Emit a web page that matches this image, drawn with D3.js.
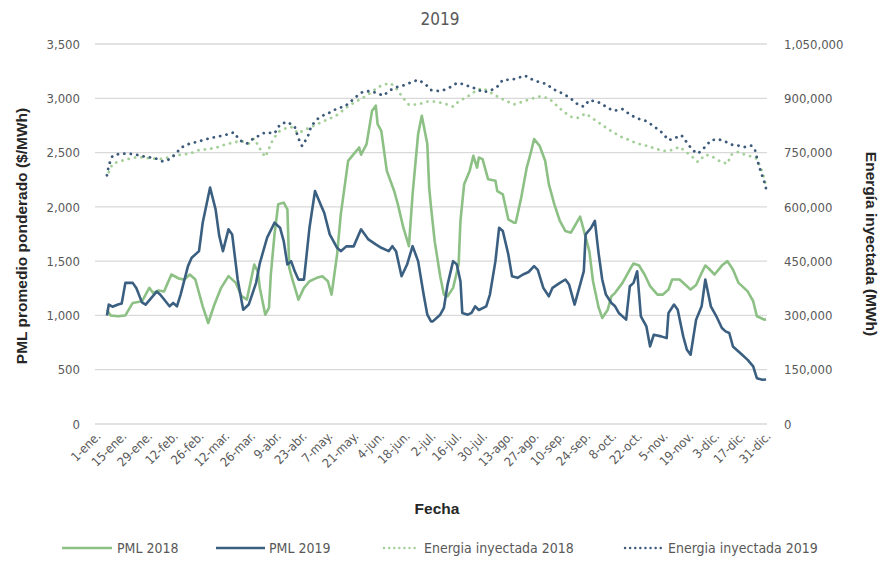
<!DOCTYPE html>
<html><head><meta charset="utf-8">
<script src="https://cdn.jsdelivr.net/npm/d3@7"></script>
<style>
body{margin:0;background:#fff;}
svg text{font-family:"Liberation Sans Narrow","Arial Narrow","DejaVu Sans Condensed",sans-serif;fill:#595959;}
</style></head>
<body><svg id="c" width="880" height="561"></svg>
<script>
const title = "2019";
const tickDays = [0,14,28,42,56,70,84,98,112,126,140,154,168,182,196,210,224,238,252,266,280,294,308,322,336,350,364];
const tickLabels = ["1-ene.","15-ene.","29-ene.","12-feb.","26-feb.","12-mar.","26-mar.","9-abr.","23-abr.","7-may.","21-may.","4-jun.","18-jun.","2-jul.","16-jul.","30-jul.","13-ago.","27-ago.","10-sep.","24-sep.","8-oct.","22-oct.","5-nov.","19-nov.","3-dic.","17-dic.","31-dic."];
const leftTicks = [0,500,1000,1500,2000,2500,3000,3500];
const rightTicks = [0,150000,300000,450000,600000,750000,900000,1050000];

// [day of year (0 = 1-ene), value]
const pml2018 = [[6,1053],[8,1000],[12,992],[16,1000],[20,1115],[25,1130],[29,1254],[31,1208],[34,1230],[37,1220],[41,1377],[45,1340],[48,1330],[51,1377],[54,1331],[58,1084],[61,930],[64,1084],[68,1254],[72,1362],[76,1300],[79,1180],[82,1146],[86,1469],[88,1400],[89,1254],[92,1007],[94,1069],[95,1377],[97,1746],[99,2023],[102,2039],[104,1977],[105,1438],[107,1315],[110,1146],[113,1254],[116,1315],[120,1346],[123,1360],[126,1315],[128,1192],[131,1562],[133,1931],[137,2424],[140,2485],[143,2547],[144,2480],[147,2578],[150,2886],[152,2932],[153,2763],[155,2700],[158,2331],[162,2146],[164,2023],[167,1808],[170,1638],[172,2116],[175,2670],[177,2839],[180,2578],[181,2176],[182,2000],[184,1684],[187,1361],[189,1192],[191,1176],[194,1254],[197,1469],[198,1870],[200,2209],[203,2331],[205,2470],[207,2362],[208,2455],[210,2440],[213,2255],[217,2240],[218,2146],[221,2116],[224,1885],[227,1854],[228,1854],[231,2085],[234,2362],[236,2485],[238,2624],[241,2562],[244,2424],[246,2209],[249,2023],[252,1870],[255,1777],[258,1762],[263,1910],[266,1720],[268,1592],[270,1315],[273,1075],[275,977],[278,1053],[280,1177],[282,1208],[286,1300],[290,1423],[292,1478],[295,1460],[298,1377],[301,1270],[305,1192],[308,1192],[311,1238],[313,1331],[317,1331],[320,1285],[323,1238],[326,1280],[329,1392],[331,1460],[333,1430],[336,1377],[339,1438],[340,1460],[343,1500],[346,1423],[349,1300],[351,1270],[354,1222],[357,1131],[359,992],[363,961],[364,965]];

const pml2019 = [[6,1000],[7,1100],[9,1080],[12,1100],[14,1110],[16,1300],[20,1300],[22,1250],[25,1120],[27,1100],[30,1160],[33,1220],[35,1190],[40,1084],[42,1115],[44,1084],[46,1192],[50,1454],[52,1531],[56,1592],[58,1854],[62,2178],[65,1977],[67,1731],[69,1592],[72,1793],[74,1746],[77,1331],[80,1053],[83,1100],[87,1300],[89,1480],[93,1716],[97,1854],[100,1808],[102,1684],[104,1469],[106,1500],[108,1407],[110,1330],[113,1330],[116,1808],[119,2146],[122,2023],[124,1946],[127,1746],[131,1623],[133,1592],[136,1636],[140,1636],[144,1793],[148,1700],[152,1654],[155,1623],[159,1592],[161,1638],[163,1592],[166,1361],[169,1469],[172,1638],[175,1500],[178,1192],[180,1007],[182,945],[183,945],[187,1007],[189,1069],[191,1284],[194,1500],[196,1470],[198,1315],[199,1023],[202,1007],[204,1023],[206,1084],[208,1050],[212,1084],[214,1192],[217,1500],[219,1808],[221,1777],[224,1562],[226,1361],[229,1346],[232,1377],[235,1400],[238,1454],[240,1420],[243,1254],[246,1176],[248,1254],[252,1300],[255,1331],[257,1284],[260,1100],[263,1284],[265,1408],[266,1746],[269,1808],[271,1870],[273,1577],[275,1331],[277,1192],[280,1115],[282,1084],[284,1023],[288,961],[290,1269],[292,1300],[294,1407],[296,992],[299,899],[301,714],[303,822],[307,807],[310,791],[311,1023],[314,1100],[316,1053],[319,807],[321,684],[323,638],[326,961],[329,1084],[331,1331],[334,1084],[337,992],[340,884],[342,853],[344,838],[346,714],[349,668],[351,638],[354,591],[357,530],[359,422],[362,407],[364,410]];

const energia2018 = [[7,696000],[9,719000],[13,726000],[18,733000],[23,738000],[27,735000],[32,733000],[37,732000],[41,741000],[46,744000],[51,747000],[56,757000],[60,759000],[65,763000],[70,772000],[75,778000],[79,782000],[83,775000],[86,789000],[90,752000],[92,738000],[96,784000],[99,807000],[103,817000],[106,821000],[110,803000],[113,812000],[117,821000],[122,833000],[127,844000],[131,854000],[136,874000],[141,891000],[144,898000],[148,911000],[153,930000],[156,937000],[160,942000],[163,928000],[167,900000],[170,882000],[175,883000],[180,891000],[184,891000],[189,886000],[194,877000],[197,891000],[202,905000],[207,923000],[210,928000],[214,917000],[218,905000],[222,895000],[227,883000],[232,891000],[236,898000],[241,905000],[246,900000],[249,886000],[254,863000],[258,849000],[262,846000],[266,858000],[271,840000],[275,826000],[280,809000],[285,794000],[290,784000],[294,775000],[299,769000],[304,761000],[308,754000],[313,757000],[317,766000],[320,754000],[324,738000],[327,724000],[331,744000],[334,741000],[339,726000],[343,719000],[345,744000],[349,752000],[353,743000],[357,738000],[359,733000],[362,696000],[364,659000]];

const energia2019 = [[6,687000],[7,715000],[9,741000],[13,747000],[18,747000],[23,743000],[27,738000],[32,735000],[36,726000],[39,729000],[43,744000],[46,763000],[51,775000],[56,781000],[60,787000],[65,793000],[70,798000],[75,806000],[78,784000],[82,775000],[85,787000],[89,798000],[92,806000],[97,803000],[100,828000],[104,835000],[108,821000],[110,789000],[112,768000],[115,793000],[117,824000],[121,846000],[124,854000],[128,863000],[131,872000],[135,877000],[138,889000],[142,907000],[145,918000],[149,920000],[153,914000],[156,907000],[160,923000],[164,932000],[168,937000],[171,944000],[175,951000],[179,939000],[182,923000],[186,920000],[189,923000],[193,932000],[196,942000],[200,939000],[203,932000],[207,926000],[210,917000],[214,920000],[218,932000],[221,951000],[225,951000],[228,954000],[233,963000],[236,954000],[240,946000],[245,939000],[248,926000],[252,917000],[255,909000],[259,895000],[262,882000],[265,877000],[268,895000],[273,889000],[277,877000],[281,865000],[286,870000],[291,852000],[295,843000],[299,837000],[304,819000],[308,803000],[311,784000],[314,789000],[318,798000],[321,778000],[324,757000],[327,747000],[331,766000],[334,784000],[338,787000],[342,780000],[345,772000],[349,769000],[352,765000],[356,769000],[358,757000],[360,715000],[363,669000],[364,650000]];

const seriesNames = ["PML 2018","PML 2019","Energia inyectada 2018","Energia inyectada 2019"];
const colors = {pml2018:"#8cc084", pml2019:"#3b5f80", e2018:"#a5cf99", e2019:"#3d5a7a"};

const svg = d3.select("#c");
const L=95, R=767, T=44, B=424;
const x = d3.scaleLinear().domain([0,365]).range([L,R]);
const yL = d3.scaleLinear().domain([0,3500]).range([B,T]);
const yR = d3.scaleLinear().domain([0,1050000]).range([B,T]);

// gridlines
svg.append("g").selectAll("line").data(leftTicks).join("line")
  .attr("x1",L).attr("x2",R).attr("y1",d=>yL(d)).attr("y2",d=>yL(d))
  .attr("stroke","#d9d9d9").attr("stroke-width",1.3);

// left axis
const gL = svg.append("g").attr("transform",`translate(${L},0)`)
  .call(d3.axisLeft(yL).tickValues(leftTicks).tickSize(0).tickPadding(15).tickFormat(d3.format(",")));
gL.select(".domain").remove();
gL.selectAll("text").style("font-size","13px").style("font-family",null);

// right axis
const gR = svg.append("g").attr("transform",`translate(${R},0)`)
  .call(d3.axisRight(yR).tickValues(rightTicks).tickSize(0).tickPadding(17).tickFormat(d3.format(",")));
gR.select(".domain").remove();
gR.selectAll("text").style("font-size","13px").style("font-family",null);

// x axis
const gX = svg.append("g").attr("transform",`translate(0,${B})`)
  .call(d3.axisBottom(x).tickValues(tickDays.map(d=>d+0.5)).tickSize(0).tickFormat((d,i)=>tickLabels[i]));
gX.select(".domain").remove();
gX.selectAll("text").style("font-size","12.5px").style("font-family",null)
  .attr("x",0).attr("y",0).attr("dy",null).style("text-anchor","end")
  .attr("transform","translate(5,13) rotate(-45)");

// lines
const lineL = d3.line().x(d=>x(d[0]+0.5)).y(d=>yL(d[1])).curve(d3.curveLinear);
const lineR = d3.line().x(d=>x(d[0]+0.5)).y(d=>yR(d[1])).curve(d3.curveLinear);

svg.append("path").datum(energia2018).attr("d",lineR).attr("fill","none")
  .attr("stroke",colors.e2018).attr("stroke-width",2.8).attr("stroke-linecap","round").attr("stroke-dasharray","0.1,6.4");
svg.append("path").datum(energia2019).attr("d",lineR).attr("fill","none")
  .attr("stroke",colors.e2019).attr("stroke-width",2.8).attr("stroke-linecap","round").attr("stroke-dasharray","0.1,6.4");
svg.append("path").datum(pml2018).attr("d",lineL).attr("fill","none")
  .attr("stroke",colors.pml2018).attr("stroke-width",2.6).attr("stroke-linejoin","round");
svg.append("path").datum(pml2019).attr("d",lineL).attr("fill","none")
  .attr("stroke",colors.pml2019).attr("stroke-width",2.6).attr("stroke-linejoin","round");

// title
svg.append("text").attr("x",440).attr("y",25).attr("text-anchor","middle")
  .style("font-size","17px").text(title);

// axis titles
svg.append("text").attr("transform","translate(27,236) rotate(-90)").attr("text-anchor","middle")
  .style("font-size","15.5px").style("font-weight","bold").style("fill","#262626")
  .style("font-family","'Liberation Sans','DejaVu Sans',sans-serif").text("PML promedio ponderado ($/MWh)");
svg.append("text").attr("transform","translate(866,244) rotate(90)").attr("text-anchor","middle")
  .style("font-size","15.5px").style("font-weight","bold").style("fill","#262626")
  .style("font-family","'Liberation Sans','DejaVu Sans',sans-serif").text("Energía inyectada (MWh)");
svg.append("text").attr("x",437).attr("y",514).attr("text-anchor","middle")
  .style("font-size","15.5px").style("font-weight","bold").style("fill","#262626")
  .style("font-family","'Liberation Sans','DejaVu Sans',sans-serif").text("Fecha");

// legend
const legend = [
  {name:seriesNames[0], color:colors.pml2018, dash:null, x1:62, x2:112, tx:117},
  {name:seriesNames[1], color:colors.pml2019, dash:null, x1:216, x2:265, tx:269},
  {name:seriesNames[2], color:colors.e2018, dash:"0.1,5", x1:384, x2:418, tx:424},
  {name:seriesNames[3], color:colors.e2019, dash:"0.1,5", x1:625, x2:662, tx:668}
];
const lg = svg.append("g");
legend.forEach(l=>{
  lg.append("line").attr("x1",l.x1).attr("x2",l.x2).attr("y1",548).attr("y2",548)
    .attr("stroke",l.color).attr("stroke-width",l.dash?2.4:2.6)
    .attr("stroke-linecap",l.dash?"round":"butt").attr("stroke-dasharray",l.dash);
  lg.append("text").attr("x",l.tx).attr("y",553).style("font-size","14px").text(l.name);
});
</script></body></html>
